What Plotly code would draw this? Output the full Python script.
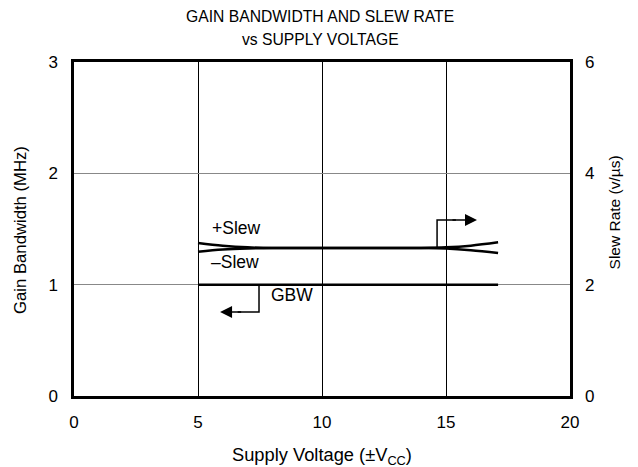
import plotly.graph_objects as go

# Data
vcc = [5, 6, 7, 8, 10, 12, 14, 15, 16, 17.1]
slew_pos = [2.75, 2.70, 2.67, 2.66, 2.66, 2.66, 2.66, 2.67, 2.70, 2.76]
slew_neg = [2.59, 2.63, 2.65, 2.66, 2.66, 2.66, 2.66, 2.65, 2.62, 2.57]
gbw_v = [5, 17.1]
gbw = [1.0, 1.0]

x_ticks = [0, 5, 10, 15, 20]
y1_ticks = [0, 1, 2, 3]
y2_ticks = [0, 2, 4, 6]

FONT = "Liberation Sans, Arial, sans-serif"

fig = go.Figure()
fig.add_trace(go.Scatter(x=vcc, y=slew_pos, yaxis="y2", mode="lines",
                         line=dict(color="black", width=2.5, shape="spline"), showlegend=False))
fig.add_trace(go.Scatter(x=vcc, y=slew_neg, yaxis="y2", mode="lines",
                         line=dict(color="black", width=2.5, shape="spline"), showlegend=False))
fig.add_trace(go.Scatter(x=gbw_v, y=gbw, mode="lines",
                         line=dict(color="black", width=2.5), showlegend=False))

# Elbow connectors
fig.add_trace(go.Scatter(x=[7.46, 7.46, 6.6], y=[1.0, 0.755, 0.755], mode="lines",
                         line=dict(color="black", width=1.5), showlegend=False))
fig.add_trace(go.Scatter(x=[14.64, 14.64, 15.4], y=[2.66, 3.16, 3.16], yaxis="y2", mode="lines",
                         line=dict(color="black", width=1.5), showlegend=False))

fig.add_annotation(x=5.89, y=0.755, ax=6.8, ay=0.755, xref="x", yref="y", axref="x", ayref="y",
                   text="", showarrow=True, arrowhead=2, arrowsize=1.6, arrowwidth=1.5, arrowcolor="black")
fig.add_annotation(x=16.25, y=3.16, ax=15.2, ay=3.16, xref="x", yref="y2", axref="x", ayref="y2",
                   text="", showarrow=True, arrowhead=2, arrowsize=1.6, arrowwidth=1.5, arrowcolor="black")

lab_font = dict(family=FONT, size=17.5, color="black")
fig.add_annotation(x=5.5, y=1.51, xref="x", yref="y", text="+Slew", showarrow=False,
                   xanchor="left", font=lab_font)
fig.add_annotation(x=5.45, y=1.205, xref="x", yref="y", text="\u2013Slew", showarrow=False,
                   xanchor="left", font=lab_font)
fig.add_annotation(x=7.85, y=0.907, xref="x", yref="y", text="GBW", showarrow=False,
                   xanchor="left", font=lab_font)

# Title lines and axis titles
tfont = dict(family=FONT, size=15.7, color="black")
fig.add_annotation(x=0.496, y=1.135, xref="paper", yref="paper", text="GAIN BANDWIDTH AND SLEW RATE",
                   showarrow=False, font=tfont, xanchor="center", yanchor="middle")
fig.add_annotation(x=0.496, y=1.066, xref="paper", yref="paper", text="vs SUPPLY VOLTAGE",
                   showarrow=False, font=tfont, xanchor="center", yanchor="middle")
fig.add_annotation(x=0.5, y=-0.18, xref="paper", yref="paper", text="Supply Voltage (\u00b1V<sub>CC</sub>)",
                   showarrow=False, font=dict(family=FONT, size=18.3, color="black"),
                   xanchor="center", yanchor="middle")
fig.add_annotation(x=-0.109, y=0.497, xref="paper", yref="paper", text="Gain Bandwidth (MHz)",
                   showarrow=False, font=dict(family=FONT, size=16.7, color="black"),
                   textangle=-90, xanchor="center", yanchor="middle")
fig.add_annotation(x=1.089, y=0.55, xref="paper", yref="paper", text="Slew Rate (v/\u00b5s)",
                   showarrow=False, font=dict(family=FONT, size=15.5, color="black"),
                   textangle=-90, xanchor="center", yanchor="middle")

tick_font = dict(family=FONT, size=17, color="black")
fig.update_layout(
    width=638, height=467,
    margin=dict(l=74, r=68, t=62, b=71, autoexpand=False),
    paper_bgcolor="white", plot_bgcolor="white",
    font=dict(family=FONT, size=16, color="black"),
    xaxis=dict(range=[0, 20], tickvals=x_ticks, showgrid=True, gridcolor="black", gridwidth=1.3,
               showline=True, linecolor="black", linewidth=2.5, mirror=True, zeroline=False,
               ticks="", ticklen=0, tickfont=tick_font, ticklabelstandoff=9, automargin=False),
    yaxis=dict(range=[0, 3], tickvals=y1_ticks, showgrid=True, gridcolor="#888888", gridwidth=1.3,
               showline=True, linecolor="black", linewidth=2.5, mirror=True, zeroline=False,
               ticks="", tickfont=tick_font, ticklabelstandoff=10, automargin=False),
    yaxis2=dict(range=[0, 6], tickvals=y2_ticks, overlaying="y", side="right", showgrid=False,
                zeroline=False, showline=False, ticks="", tickfont=tick_font,
                ticklabelstandoff=14, automargin=False),
)

fig.write_html(
    "out.html",
    config={"displayModeBar": False},
    post_script="document.body.style.margin='0';document.body.style.overflow='hidden';"
                "document.documentElement.style.overflow='hidden';",
)
